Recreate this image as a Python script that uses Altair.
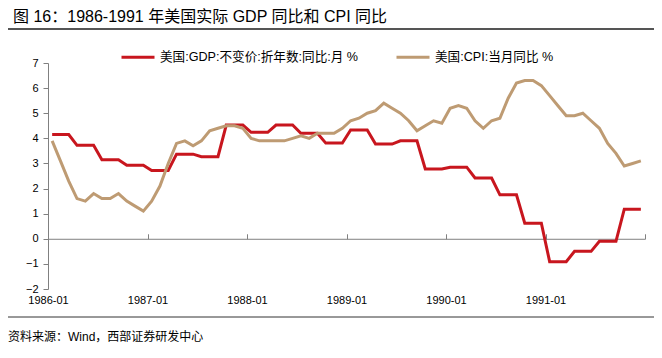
import altair as alt
import pandas as pd

years = [1986, 1987, 1988, 1989, 1990, 1991]
year_labels = ["1986-01", "1987-01", "1988-01", "1989-01", "1990-01", "1991-01"]

# GDP real YoY, quarterly (shown as monthly steps)
gdp_quarterly = [4.15, 3.72, 3.15, 2.93,
                 2.72, 3.37, 3.27, 4.53,
                 4.24, 4.53, 4.20, 3.81,
                 4.33, 3.77, 3.90, 2.78,
                 2.85, 2.42, 1.75, 0.62,
                 -0.91, -0.50, -0.10, 1.18]

# CPI YoY, monthly
cpi_monthly = [3.9, 3.1, 2.3, 1.6, 1.5, 1.8, 1.6, 1.6, 1.8, 1.5, 1.3, 1.1,
               1.5, 2.1, 3.0, 3.8, 3.9, 3.7, 3.9, 4.3, 4.4, 4.5, 4.5, 4.4,
               4.0, 3.9, 3.9, 3.9, 3.9, 4.0, 4.1, 4.0, 4.2, 4.2, 4.2, 4.4,
               4.7, 4.8, 5.0, 5.1, 5.4, 5.2, 5.0, 4.7, 4.3, 4.5, 4.7, 4.6,
               5.2, 5.3, 5.2, 4.7, 4.4, 4.7, 4.8, 5.6, 6.2, 6.3, 6.3, 6.1,
               5.7, 5.3, 4.9, 4.9, 5.0, 4.7, 4.4, 3.8, 3.4, 2.9, 3.0, 3.1]

gdp_name = "美国:GDP:不变价:折年数:同比:月 %"
cpi_name = "美国:CPI:当月同比 %"
title_text = "图 16：1986-1991 年美国实际 GDP 同比和 CPI 同比"
source_text = "资料来源：Wind，西部证券研发中心"

months = [f"{y}-{m:02d}" for y in years for m in range(1, 13)]
gdp_monthly = [v for v in gdp_quarterly for _ in range(3)]

df_gdp = pd.DataFrame({"idx": range(len(months)), "month": months,
                       "value": gdp_monthly, "series": gdp_name})
df_cpi = pd.DataFrame({"idx": range(len(months)), "month": months,
                       "value": cpi_monthly, "series": cpi_name})

W, H = 597, 226
n = len(months)
x_dom = [-0.5, n - 0.5]
y_dom = [-2, 7]
zero_px = H * (y_dom[1] - 0) / (y_dom[1] - y_dom[0])
boundaries = [12 * k - 0.5 for k in range(len(years) + 1)]
label_vals = boundaries[:len(years)]

FONT = "'Liberation Sans', 'Noto Sans CJK SC', sans-serif"
GRAY = "#808080"
RED = "#C8161E"
TAN = "#BE9B73"

xscale = alt.Scale(domain=x_dom, nice=False, zero=False)
yscale = alt.Scale(domain=y_dom, nice=False, zero=False)

label_expr = "[" + ",".join(f"'{s}'" for s in year_labels) + "][round((datum.value + 0.5) / 12)]"

y_enc = alt.Y("value:Q", scale=yscale,
              axis=alt.Axis(values=list(range(-2, 8)), grid=False, title=None,
                            domainColor=GRAY, tickColor=GRAY, tickSize=5,
                            labelPadding=5, labelFontSize=11, labelFont=FONT,
                            labelColor="#000"))

color_enc = alt.Color("series:N",
                      scale=alt.Scale(domain=[gdp_name, cpi_name], range=[RED, TAN]),
                      legend=alt.Legend(orient="none", legendX=72, legendY=-24,
                                        direction="horizontal", title=None,
                                        symbolType="stroke", symbolSize=1089,
                                        symbolStrokeWidth=3, labelFontSize=12.6,
                                        labelFont=FONT, labelColor="#000",
                                        labelLimit=0,
                                        columnPadding=31, labelOffset=4, padding=0))

gdp_layer = alt.Chart(df_gdp).mark_line(strokeWidth=3).encode(
    x=alt.X("idx:Q", scale=xscale,
            axis=alt.Axis(orient="bottom", values=label_vals, labelExpr=label_expr,
                          domain=False, ticks=False, grid=False, labelPadding=5,
                          labelFontSize=11, labelFont=FONT, labelColor="#000",
                          labelFlush=False, labelOverlap=False, title=None)),
    y=y_enc,
    color=color_enc,
)

cpi_layer = alt.Chart(df_cpi).mark_line(strokeWidth=3).encode(
    x=alt.X("idx:Q", scale=xscale,
            axis=alt.Axis(orient="top", offset=-zero_px, values=boundaries,
                          labels=False, domainColor=GRAY, tickColor=GRAY,
                          tickSize=5, grid=False, title=None)),
    y=y_enc,
    color=color_enc,
)

one = pd.DataFrame({"k": [0]})
title_mark = alt.Chart(one).mark_text(
    text=title_text, align="left", baseline="middle", fontSize=16, font=FONT,
    color="#000").encode(x=alt.value(-35), y=alt.value(-46))
title_rule = alt.Chart(one).mark_rule(color="#555555", strokeWidth=2).encode(
    x=alt.value(-40), x2=alt.value(606), y=alt.value(-34))
foot_rule = alt.Chart(one).mark_rule(color="#333333", strokeWidth=1).encode(
    x=alt.value(-40), x2=alt.value(606), y=alt.value(254))
source_mark = alt.Chart(one).mark_text(
    text=source_text, align="left", baseline="middle", fontSize=12, font=FONT,
    color="#000").encode(x=alt.value(-40), y=alt.value(274))

chart = alt.layer(gdp_layer, cpi_layer, title_mark, title_rule, foot_rule, source_mark).resolve_axis(
    x="independent"
).properties(
    width=W, height=H,
    autosize=alt.AutoSizeParams(type="none"),
    padding={"left": 40, "top": 55, "right": 9, "bottom": 61},
).configure_view(stroke=None)

chart.save("out.html", embed_options={"renderer": "svg", "actions": False})
